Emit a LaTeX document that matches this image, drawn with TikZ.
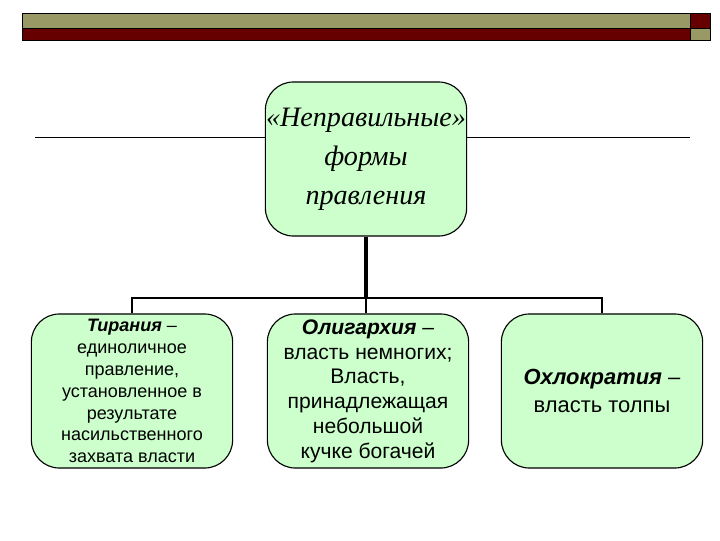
\documentclass[tikz,border=0pt]{standalone}
\usepackage{fontspec}
\setmainfont{Liberation Serif}
\setsansfont{Liberation Sans}
\usetikzlibrary{positioning}
\definecolor{olivebar}{RGB}{153,153,102}
\definecolor{maroon}{RGB}{102,0,0}
\definecolor{mint}{RGB}{204,255,204}
\tikzset{
  form/.style={draw=black,fill=mint,rounded corners=0.7cm,line width=0.8pt,
    align=center,inner sep=0pt,minimum width=5.03cm,minimum height=3.85cm},
  head/.style={form,font=\itshape\fontsize{20}{27.8}\selectfont},
  kind/.style args={#1/#2}{form,font=\sffamily\fontsize{#1}{#2}\selectfont},
  bar/.style={fill=#1,draw=black,line width=0.6pt},
  link/.style={draw=black,line width=1.8pt},
}
\begin{document}
\begin{tikzpicture}[x=0.025cm,y=-0.025cm]
  \useasboundingbox (0,0) rectangle (720,540);
  % title bar
  \draw[bar=olivebar] (22,13) rectangle (690,28);
  \draw[bar=maroon] (22,28) rectangle (690,40);
  \draw[bar=maroon] (690,13) rectangle (710,28);
  \draw[bar=olivebar] (690,28) rectangle (710,40);
  \draw[black,line width=0.7pt] (35,137) -- (690,137);
  % boxes
  \node[head] (forms) at (366,159) {«Неправильные»\\формы\\правления};
  \node[kind=12.8/15.6] (tyr) at (132,391) {\textbf{\textit{Тирания}} –\\единоличное\\правление,\\установленное в\\результате\\насильственного\\захвата власти};
  \node[kind=15/17.6] (olig) at (368,391) {\textbf{\textit{Олигархия}} –\\власть немногих;\\Власть,\\принадлежащая\\небольшой\\кучке богачей};
  \node[kind=15.6/20] (ochlo) at (602,391) {\textbf{\textit{Охлократия}} –\\власть толпы};
  % connectors
  \coordinate (bus) at (366,298);
  \draw[link,line width=2.8pt] (forms.south -| bus) -- (bus);
  \draw[link] (tyr.north) |- (bus) -| (ochlo.north);
  \draw[link] (bus) -- (bus |- olig.north);
\end{tikzpicture}
\end{document}
